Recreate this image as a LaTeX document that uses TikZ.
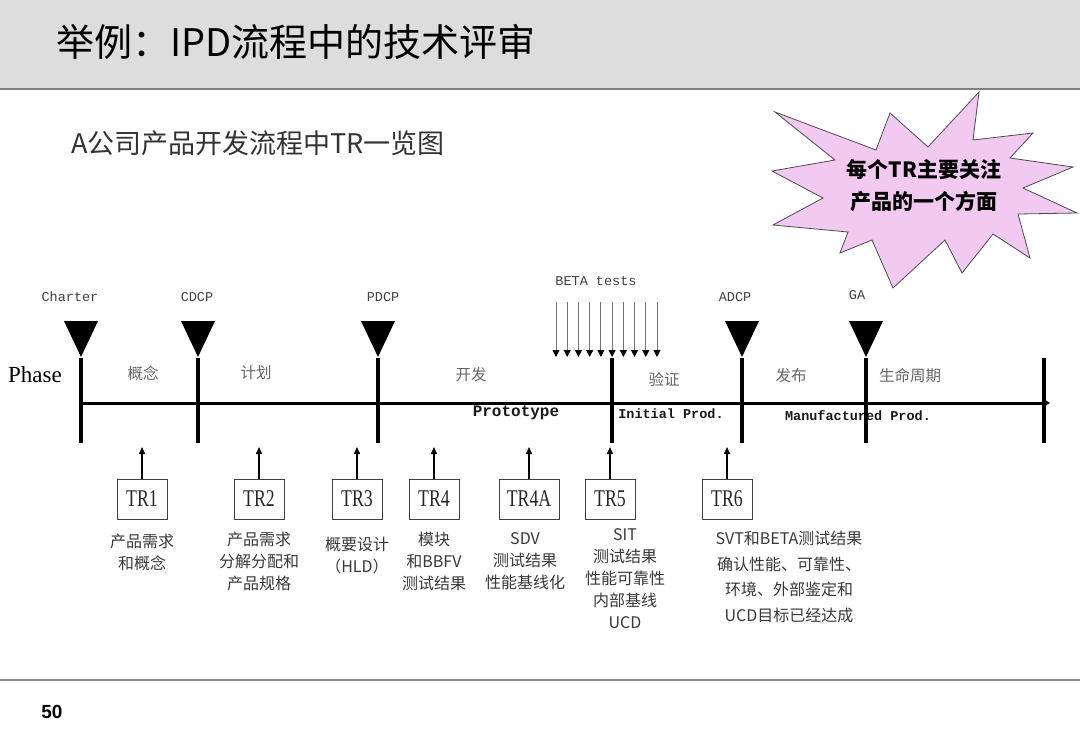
\documentclass[tikz,border=0pt]{standalone}
\usepackage{fontspec}
\setmainfont{Liberation Serif}
\newfontfamily\cjk{Noto Sans CJK SC}
\newfontfamily\mono{Liberation Mono}
\newfontfamily\sansf{Liberation Sans}
\newfontfamily\trfont[FakeStretch=0.74]{Liberation Serif}
\usetikzlibrary{arrows.meta,calc}
\definecolor{titlegray}{RGB}{221,221,221}
\definecolor{starpink}{RGB}{241,201,241}
\tikzset{
  vline/.style={line width=3.5pt},
  mslabel/.style={font=\mono\fontsize{13.5}{16}\selectfont, text=black!75, inner sep=0pt},
  phaselabel/.style={font=\cjk\fontsize{15.5}{18}\selectfont, text=black!60, inner sep=0pt},
  prodlabel/.style={font=\mono\bfseries\fontsize{13.5}{16}\selectfont, text=black!90, inner sep=0pt},
  trbox/.style={draw=black!75, line width=1pt, minimum width=50pt, minimum height=40pt, inner sep=0pt, font=\trfont\fontsize{24}{26}\selectfont, text=black!85},
  desc/.style={font=\cjk\fontsize{16}{22}\selectfont, align=center, anchor=north, inner sep=0pt, text=black!78},
  uparrow/.style={line width=1.5pt, -{Triangle[length=7pt,width=6pt]}},
  betaarrow/.style={draw=black!55, line width=0.9pt, -{Triangle[length=7pt,width=7pt,color=black]}}
}
\begin{document}
\begin{tikzpicture}[x=1pt,y=-1pt]
\useasboundingbox (0,0) rectangle (1080,747);
% title band
\fill[titlegray] (0,0) rectangle (1080,88);
\draw[black!50, line width=2pt] (0,89) -- (1080,89);
\node[anchor=west, inner sep=0pt, font=\cjk\fontsize{38}{42}\selectfont] (title) at (56,42) {举例：IPD流程中的技术评审};
\node[anchor=west, inner sep=0pt, font=\cjk\fontsize{27}{30}\selectfont, text=black!80] (subtitle) at (71,143) {A公司产品开发流程中TR一览图};
% star
\draw[fill=starpink, draw=black!70, line width=0.8pt]
 (775,112) -- (876,150) -- (890,113) -- (928,147) -- (979,92) -- (973,140) -- (1033,133) -- (1010,158)
 -- (1073,167) -- (1023,188) -- (1077,213) -- (1018,214) -- (1030,258) -- (993,234) -- (962,273)
 -- (945,240) -- (893,288) -- (872,240) -- (840,253) -- (848,232) -- (773,225) -- (823,198)
 -- (772,171) -- (835,160) -- cycle;
\node[inner sep=0pt, align=center, font=\cjk\bfseries\fontsize{21}{32}\selectfont] (startext) at (924,186) {每个TR主要关注\\产品的一个方面};
% milestone coordinates
\coordinate (charter) at (81,358);
\coordinate (cdcp) at (198,358);
\coordinate (pdcp) at (378,358);
\coordinate (sit) at (612,358);
\coordinate (adcp) at (742,358);
\coordinate (ga) at (866,358);
\coordinate (endm) at (1044,358);
\coordinate (lineS) at (81,403);
\coordinate (lineE) at (1050,403);
% labels above
\node[mslabel] (lcharter) at (70,297) {Charter};
\node[mslabel] (lcdcp) at (197,297) {CDCP};
\node[mslabel] (lpdcp) at (383,297) {PDCP};
\node[mslabel] (ladcp) at (735,297) {ADCP};
\node[mslabel] (lga) at (857,295) {GA};
\node[mslabel] (lbeta) at (596,281) {BETA tests};
% triangles
\foreach \m in {charter,cdcp,pdcp,adcp,ga}{
  \fill ($(\m)+(-17,-37)$) -- ($(\m)+(17,-37)$) -- ($(\m)+(0,-1)$) -- cycle;
}
% beta arrows
\foreach \i in {0,...,9}{
  \coordinate (b\i) at ({556+11.22*\i},302);
  \coordinate (bt\i) at ({556+11.22*\i},357);
  \draw[betaarrow] (b\i) -- (bt\i);
}
% Phase and phase names
\node[inner sep=0pt, font=\fontsize{23}{25}\selectfont] (phase) at (35,375) {Phase};
\node[phaselabel] (p1) at (143,373) {概念};
\node[phaselabel] (p2) at (256,373) {计划};
\node[phaselabel] (p3) at (471,375) {开发};
\node[phaselabel] (p4) at (664,379) {验证};
\node[phaselabel] (p5) at (791,376) {发布};
\node[phaselabel] (p6) at (910,376) {生命周期};
% product labels
\node[prodlabel, font=\mono\bfseries\fontsize{16}{18}\selectfont] (proto) at (516,413) {Prototype};
\node[prodlabel] (initp) at (671,414) {Initial Prod.};
\node[prodlabel] (manp) at (858,416) {Manufactured Prod.};
% main line
\draw[line width=3pt, -{Triangle[length=6pt,width=7pt]}] (lineS) -- (lineE);
\foreach \m in {charter,cdcp,pdcp,sit,adcp,ga,endm}{
  \draw[vline] (\m) -- ($(\m)+(0,85)$);
}
% TR boxes
\node[trbox] (tr1) at (142,499) {TR1};
\node[trbox] (tr2) at (259,499) {TR2};
\node[trbox] (tr3) at (357,499) {TR3};
\node[trbox] (tr4) at (434,499) {TR4};
\node[trbox, minimum width=60pt] (tr4a) at (529,499) {TR4A};
\node[trbox] (tr5) at (610,499) {TR5};
\node[trbox] (tr6) at (727,499) {TR6};
% arrow targets
\coordinate (a1) at (142,447);
\coordinate (a2) at (259,447);
\coordinate (a3) at (357,447);
\coordinate (a4) at (434,447);
\coordinate (a4a) at (529,447);
\coordinate (a5) at (610,447);
\coordinate (a6) at (727,447);
\foreach \t/\a in {tr1/a1,tr2/a2,tr3/a3,tr4/a4,tr4a/a4a,tr5/a5,tr6/a6}{
  \draw[uparrow] (\t.north) -- (\a);
}
% descriptions
\node[desc] (d1) at (142,534) {产品需求\\和概念};
\node[desc] (d2) at (259,532) {产品需求\\分解分配和\\产品规格};
\node[desc] (d3) at (357,537) {概要设计\\（HLD）};
\node[desc] (d4) at (434,532) {模块\\和BBFV\\测试结果};
\node[desc] (d4a) at (525,532) {SDV\\测试结果\\性能基线化};
\node[desc] (d5) at (625,528) {SIT\\测试结果\\性能可靠性\\内部基线\\UCD};
\node[desc, font=\cjk\fontsize{16}{25.5}\selectfont] (d6) at (789,531) {SVT和BETA测试结果\\确认性能、可靠性、\\环境、外部鉴定和\\UCD目标已经达成};
% footer
\draw[black!45, line width=1.5pt] (0,680) -- (1080,680);
\node[inner sep=0pt, font=\sansf\bfseries\fontsize{19}{22}\selectfont] (pagenum) at (52,712) {50};
\end{tikzpicture}
\end{document}
